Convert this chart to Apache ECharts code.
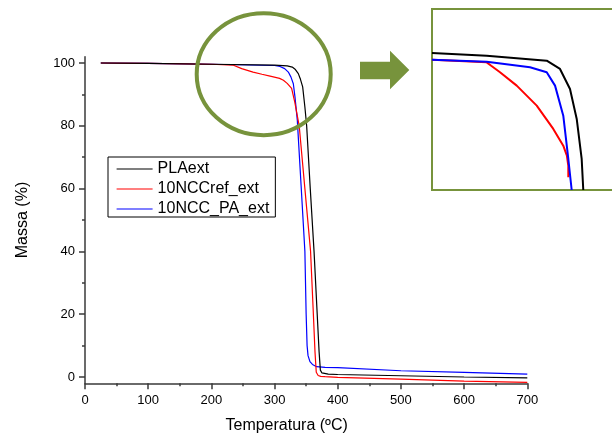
<!DOCTYPE html>
<html>
<head>
<meta charset="utf-8">
<script src="https://cdn.jsdelivr.net/npm/echarts@6/dist/echarts.min.js"></script>
<style>
html,body{margin:0;padding:0;background:#fff;}
#c{width:612px;height:434px;}
</style>
</head>
<body>
<div id="c"></div>
<script>
// ---- data (main chart) ----
const seriesNames = ['PLAext', '10NCCref_ext', '10NCC_PA_ext'];
const xTicks = [0, 100, 200, 300, 400, 500, 600, 700];
const yTicks = [0, 20, 40, 60, 80, 100];
const yMinorTicks = [10, 30, 50, 70, 90];

const plaTemp = [25, 100, 200, 300, 320, 328, 333, 337.6, 341, 344.5, 348, 350.8, 356.5, 362.5, 367, 370.5, 372.5, 375, 378, 385, 400, 500, 600, 700];
const plaMass = [100, 99.9, 99.6, 99.3, 99.1, 98.7, 97.9, 96.6, 94.8, 92.4, 86, 80, 60, 40, 22, 8, 2.2, 1.3, 0.95, 0.9, 0.8, 0.4, 0.0, -0.3];

const refTemp = [25, 100, 200, 235, 248, 266, 280, 293, 308, 314, 320, 327, 332, 339, 348, 357, 361, 364, 366, 369, 373, 380, 400, 500, 600, 700];
const refMass = [100, 99.9, 99.6, 99.3, 98.2, 97.1, 96.4, 95.8, 95.1, 94.5, 93.5, 91.9, 87.5, 80, 60, 40, 22, 8, 1.5, 0.5, 0.2, 0.1, -0.1, -0.7, -1.3, -1.7];

const paTemp = [25, 100, 200, 300, 308.6, 316, 321.8, 326, 329.7, 332.3, 336, 342, 348, 350, 351.5, 353, 356, 360, 366.6, 380, 400, 500, 600, 700];
const paMass = [100, 99.9, 99.6, 99.2, 98.9, 98.2, 97.1, 95.5, 93.4, 89.2, 81.8, 61, 40, 20, 10, 6.8, 4.9, 4.0, 3.3, 3.1, 3.0, 2.0, 1.5, 0.95];

// ---- data (magnified inset, as drawn in the picture) ----
const insetPlaTemp = [166, 234.4, 309.4, 326, 338.5, 346.9, 353.1, 355.1];
const insetPlaMass = [99.35, 99.13, 98.72, 98.03, 96.37, 93.89, 90.57, 88.0];
const insetRefTemp = [166, 234.4, 240, 251, 271.9, 296.9, 317.6, 330.1, 334.6, 336.4, 336.4];
const insetRefMass = [98.8, 98.58, 98.3, 97.76, 96.65, 94.99, 93.06, 91.67, 90.85, 90.0, 89.06];
const insetPaTemp = [166, 234.4, 288.5, 309.4, 319.8, 330.1, 336.4, 340.6];
const insetPaMass = [98.8, 98.63, 98.17, 97.76, 96.65, 94.16, 90.57, 88.0];

const colors = ['#000000', '#ff0000', '#0000ff'];
const green = '#77933C';
const axisColor = '#3a3a3a';
const font = "'Liberation Sans', Arial, sans-serif";

function pairs(t, m) { return t.map((v, i) => [v, m[i]]); }

const mainData = [pairs(plaTemp, plaMass), pairs(refTemp, refMass), pairs(paTemp, paMass)];
const insetData = [pairs(insetPlaTemp, insetPlaMass), pairs(insetRefTemp, insetRefMass), pairs(insetPaTemp, insetPaMass)];

const chart = echarts.init(document.getElementById('c'), null, {renderer: 'canvas'});

const series = [];
seriesNames.forEach((n, i) => {
  series.push({
    name: n, type: 'line', xAxisIndex: 0, yAxisIndex: 0,
    data: mainData[i], symbol: 'none', showSymbol: false,
    lineStyle: {color: colors[i], width: 1.2}, itemStyle: {color: colors[i]},
    z: 3 - i + 2
  });
});
seriesNames.forEach((n, i) => {
  series.push({
    name: n + ' inset', type: 'line', xAxisIndex: 1, yAxisIndex: 2,
    data: insetData[i], symbol: 'none', showSymbol: false,
    lineStyle: {color: colors[i], width: 2}, itemStyle: {color: colors[i]},
    clip: true
  });
});

const option = {
  animation: false,
  backgroundColor: '#ffffff',
  textStyle: {fontFamily: font},
  grid: [
    {left: 85, right: 84.7, top: 56.7, bottom: 50.7, containLabel: false, outerBoundsMode: 'none'},
    {left: 432, top: 9, width: 182, height: 181, show: true, containLabel: false, outerBoundsMode: 'none',
     borderColor: green, borderWidth: 2, backgroundColor: '#ffffff'}
  ],
  xAxis: [
    {
      gridIndex: 0, type: 'value', min: 0, max: 700, interval: 100,
      name: 'Temperatura (ºC)', nameLocation: 'middle', nameGap: 34,
      nameTextStyle: {fontSize: 16, color: '#000', fontFamily: font, padding: [0, 39, 0, 0]},
      axisLine: {show: true, onZero: false, lineStyle: {color: axisColor, width: 1.5}},
      axisTick: {show: true, inside: false, length: 6, lineStyle: {color: axisColor, width: 1.5}},
      minorTick: {show: true, splitNumber: 2, length: 3, lineStyle: {color: axisColor, width: 1.5}},
      axisLabel: {fontSize: 13, color: '#000', margin: 11, fontFamily: font},
      splitLine: {show: false}
    },
    {gridIndex: 1, type: 'value', min: 166, max: 393.5, show: false, splitLine: {show: false}}
  ],
  yAxis: [
    {
      gridIndex: 0, type: 'value', position: 'left', min: -2, max: 102,
      name: 'Massa (%)', nameLocation: 'middle', nameGap: 54,
      nameTextStyle: {fontSize: 16, color: '#000', fontFamily: font},
      axisLine: {show: true, onZero: false, lineStyle: {color: axisColor, width: 1.5}},
      axisTick: {show: true, inside: false, length: 6, customValues: yTicks, lineStyle: {color: axisColor, width: 1.5}},
      axisLabel: {fontSize: 13, color: '#000', margin: 10, customValues: yTicks, fontFamily: font},
      splitLine: {show: false}
    },
    {
      gridIndex: 0, type: 'value', position: 'left', min: -2, max: 102,
      axisLine: {show: false},
      axisTick: {show: true, inside: false, length: 3, customValues: yMinorTicks, lineStyle: {color: axisColor, width: 1.5}},
      axisLabel: {show: false},
      splitLine: {show: false}
    },
    {gridIndex: 1, type: 'value', min: 88, max: 103, show: false, splitLine: {show: false}}
  ],
  legend: {
    data: seriesNames,
    orient: 'vertical',
    left: 108, top: 157,
    backgroundColor: '#ffffff',
    borderColor: '#000', borderWidth: 1,
    padding: [4, 6, 0, 8],
    itemWidth: 36, itemHeight: 14, itemGap: 4,
    itemStyle: {opacity: 0},
    lineStyle: {width: 1.2},
    textStyle: {fontSize: 16, color: '#000', fontFamily: font},
    selectedMode: false
  },
  graphic: [
    {type: 'ellipse', z: 100, shape: {cx: 263.7, cy: 74.2, rx: 67, ry: 61},
     style: {fill: 'none', stroke: green, lineWidth: 4}},
    {type: 'polygon', z: 100,
     shape: {points: [[360, 61.7], [390, 61.7], [390, 50.7], [409.3, 70], [390, 89.3], [390, 79.3], [360, 79.3]]},
     style: {fill: green}}
  ],
  series: series
};
chart.setOption(option);
</script>
</body>
</html>
